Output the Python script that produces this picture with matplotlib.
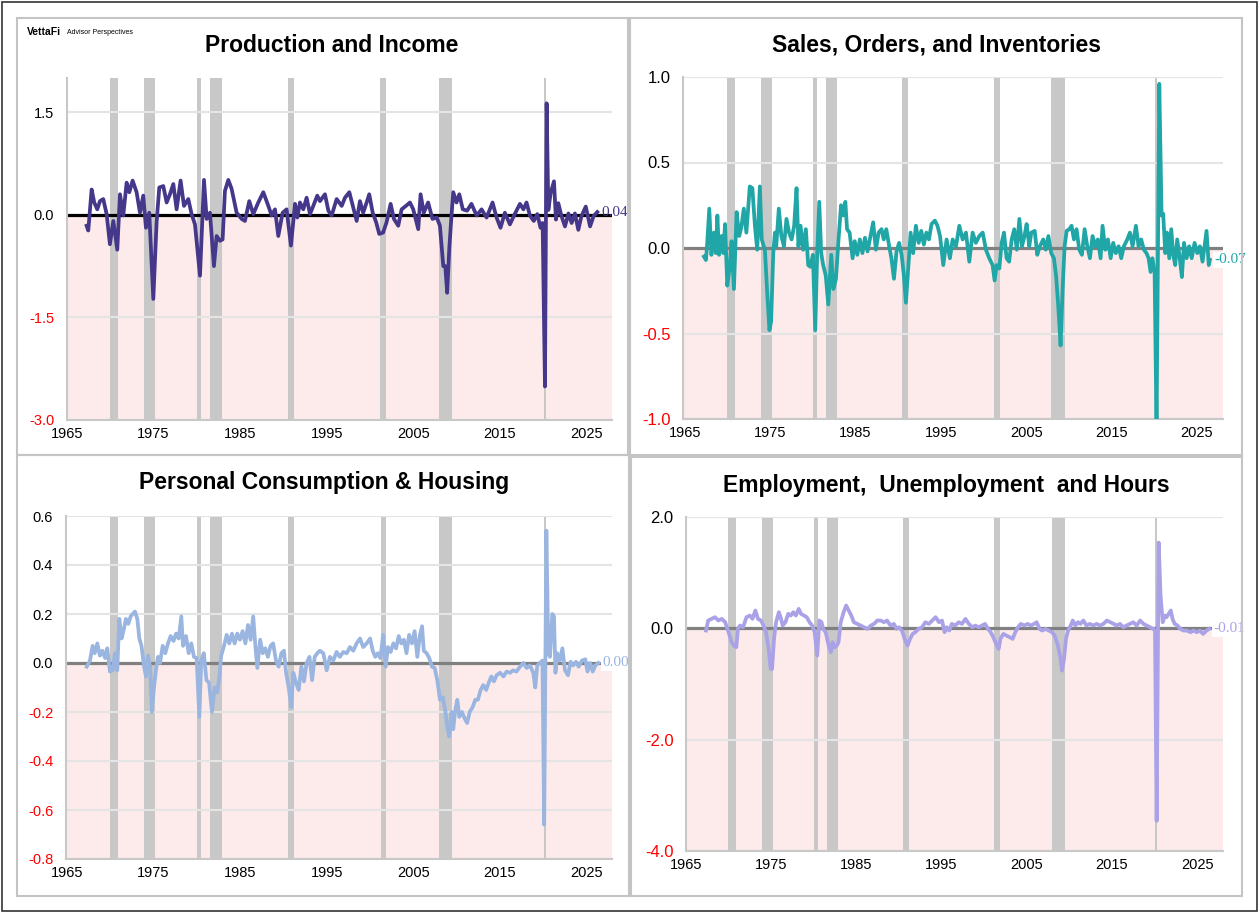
import matplotlib
matplotlib.use("Agg")
import matplotlib.pyplot as plt
from matplotlib.patches import Rectangle

plt.rcParams['font.family'] = ['Liberation Sans', 'DejaVu Sans']

W, H = 1260, 914

# recession periods (NBER)
recessions = [(1969.92, 1970.88), (1973.88, 1975.2), (1980.0, 1980.5), (1981.5, 1982.88),
              (1990.5, 1991.2), (2001.2, 2001.88), (2007.92, 2009.5), (2020.1, 2020.3)]

# Production and Income
prod_x = [1967.27, 1967.46, 1967.85, 1968.15, 1968.5, 1968.81, 1969.19, 1969.58, 1969.96, 1970.35,
          1970.81, 1971.12, 1971.5, 1971.89, 1972.2, 1972.58, 1973.04, 1973.43, 1973.81, 1974.12,
          1974.5, 1974.97, 1975.35, 1975.66, 1976.12, 1976.51, 1976.89, 1977.28, 1977.66, 1978.12,
          1978.51, 1979.01, 1979.39, 1979.78, 1980.36, 1980.82, 1981.13, 1981.51, 1981.97, 1982.28,
          1982.67, 1982.97, 1983.24, 1983.63, 1984.01, 1984.59, 1985.17, 1985.55, 1986.05, 1986.51,
          1987.09, 1987.67, 1988.25, 1988.63, 1989.02, 1989.4, 1989.9, 1990.36, 1990.86, 1991.33,
          1991.6, 1991.9, 1992.29, 1992.67, 1993.06, 1993.44, 1993.9, 1994.21, 1994.79, 1995.18,
          1995.56, 1996.14, 1996.72, 1997.1, 1997.6, 1998.0, 1998.45, 1998.83, 1999.2, 1999.6,
          1999.9, 2000.3, 2000.7, 2001.06, 2001.5, 2001.9, 2002.37, 2002.75, 2003.25, 2003.64,
          2004.14, 2004.6, 2004.98, 2005.56, 2005.83, 2006.2, 2006.7, 2007.2, 2007.7, 2008.06,
          2008.45, 2008.68, 2008.9, 2009.14, 2009.37, 2009.6, 2009.98, 2010.3, 2010.7, 2011.2,
          2011.7, 2012.3, 2012.87, 2013.45, 2014.14, 2014.6, 2015.06, 2015.56, 2016.14, 2016.7,
          2017.3, 2017.7, 2018.06, 2018.45, 2018.9, 2019.3, 2019.68, 2019.92, 2020.19, 2020.38,
          2020.58, 2020.85, 2021.23, 2021.46, 2021.73, 2022.1, 2022.5, 2022.9, 2023.27, 2023.65,
          2024.04, 2024.4, 2024.9, 2025.4, 2025.8, 2026.23]
prod_y = [-0.16, -0.23, 0.37, 0.18, 0.08, 0.2, 0.23, 0.01, -0.43, -0.09,
          -0.51, 0.3, -0.01, 0.47, 0.33, 0.5, 0.33, 0.03, 0.28, -0.19,
          0.03, -1.23, -0.11, 0.4, 0.42, 0.18, 0.3, 0.45, 0.08, 0.5,
          0.13, 0.23, 0.01, -0.14, -0.89, 0.51, -0.06, 0.03, -0.75, -0.31,
          -0.38, -0.36, 0.35, 0.51, 0.38, 0.03, -0.06, -0.09, 0.2, 0.01,
          0.18, 0.33, 0.13, -0.01, 0.08, -0.31, 0.03, 0.08, -0.45, 0.16,
          -0.04, 0.18, 0.08, 0.25, 0.01, 0.13, 0.28, 0.2, 0.3, 0.06,
          -0.01, 0.23, 0.13, 0.25, 0.33, 0.13, -0.09, 0.2, 0.03, 0.18,
          0.3, 0.03, -0.11, -0.28, -0.26, -0.11, 0.16, -0.06, -0.16, 0.08,
          0.13, 0.18, 0.08, -0.21, 0.3, 0.03, 0.18, -0.06, -0.04, -0.16,
          -0.75, -0.75, -1.14, -0.5, -0.06, 0.33, 0.18, 0.3, 0.08, 0.06,
          0.16, -0.01, 0.08, -0.04, 0.18, -0.04, -0.19, 0.03, -0.14, 0.01,
          0.16, 0.08, 0.18, -0.01, -0.09, 0.01, -0.19, -0.12, -2.51, 1.63,
          0.07, 0.32, 0.49, -0.07, 0.17, -0.02, -0.17, 0.02, -0.12, 0.02,
          -0.22, -0.02, 0.12, -0.17, -0.02, 0.04]

# Sales, Orders, and Inventories
sales_x = [1967.22, 1967.46, 1967.6, 1967.85, 1968.1, 1968.4, 1968.63, 1968.8, 1969.0, 1969.3,
           1969.5, 1969.7, 1969.96, 1970.27, 1970.46, 1970.74, 1971.05, 1971.36, 1971.6, 1971.9,
           1972.2, 1972.6, 1972.9, 1973.2, 1973.47, 1973.78, 1974.0, 1974.37, 1974.64, 1974.9,
           1975.1, 1975.35, 1975.55, 1975.7, 1976.0, 1976.3, 1976.6, 1976.9, 1977.2, 1977.5,
           1977.8, 1978.08, 1978.3, 1978.55, 1978.86, 1979.17, 1979.45, 1979.7, 1980.0, 1980.27,
           1980.5, 1980.74, 1980.97, 1981.2, 1981.5, 1981.8, 1982.15, 1982.4, 1982.7, 1983.0,
           1983.3, 1983.55, 1983.8, 1984.0, 1984.3, 1984.65, 1984.9, 1985.2, 1985.5, 1985.8,
           1986.1, 1986.4, 1986.75, 1987.06, 1987.38, 1987.7, 1988.04, 1988.3, 1988.6, 1988.94,
           1989.2, 1989.5, 1989.8, 1990.1, 1990.4, 1990.66, 1990.9, 1991.2, 1991.45, 1991.75,
           1992.07, 1992.4, 1992.7, 1993.0, 1993.3, 1993.6, 1993.9, 1994.3, 1994.6, 1994.9,
           1995.28, 1995.67, 1996.06, 1996.38, 1996.77, 1997.16, 1997.55, 1997.94, 1998.33, 1998.72,
           1999.1, 1999.5, 1999.9, 2000.28, 2000.67, 2001.06, 2001.3, 2001.53, 2001.85, 2002.12,
           2002.4, 2002.7, 2003.0, 2003.3, 2003.6, 2003.9, 2004.2, 2004.5, 2004.8, 2005.05,
           2005.36, 2005.6, 2006.0, 2006.3, 2006.6, 2007.0, 2007.3, 2007.6, 2007.94, 2008.25,
           2008.5, 2008.76, 2009.03, 2009.27, 2009.5, 2009.74, 2010.05, 2010.32, 2010.6, 2010.9,
           2011.22, 2011.53, 2011.85, 2012.16, 2012.47, 2012.78, 2013.1, 2013.4, 2013.72, 2013.95,
           2014.27, 2014.58, 2014.9, 2015.2, 2015.5, 2015.83, 2016.14, 2016.45, 2016.85, 2017.16,
           2017.47, 2017.86, 2018.17, 2018.48, 2018.8, 2019.1, 2019.35, 2019.58, 2019.8, 2020.05,
           2020.28, 2020.6, 2020.87, 2021.06, 2021.3, 2021.5, 2021.77, 2022.0, 2022.24, 2022.47,
           2022.7, 2023.0, 2023.25, 2023.5, 2023.8, 2024.1, 2024.4, 2024.74, 2025.05, 2025.36,
           2025.67, 2025.9, 2026.14, 2026.4, 2026.53]
sales_y = [-0.05, -0.07, 0.02, 0.23, -0.04, 0.09, -0.03, 0.19, -0.04, 0.07,
           -0.03, 0.14, -0.22, -0.1, 0.04, -0.24, 0.21, 0.07, 0.12, 0.23,
           0.09, 0.36, 0.35, 0.13, -0.01, 0.36, 0.05, -0.01, -0.26, -0.48,
           -0.43, -0.03, 0.09, 0.01, 0.23, 0.07, 0.01, 0.17, 0.09, 0.05,
           0.13, 0.35, 0.01, 0.13, -0.01, 0.11, -0.1, -0.11, -0.04, -0.48,
           -0.03, 0.27, -0.03, -0.1, -0.16, -0.33, -0.04, -0.24, -0.18, 0.05,
           0.25, 0.19, 0.27, 0.11, 0.09, -0.06, 0.04, -0.04, 0.05, -0.03,
           0.06, -0.02, 0.07, 0.15, -0.01, 0.09, 0.11, 0.05, 0.11, 0.01,
           -0.06, -0.18, -0.02, 0.03, -0.04, -0.16, -0.32, -0.1, 0.09, -0.03,
           0.13, 0.03, 0.1, 0.02, 0.09, 0.05, 0.14, 0.16, 0.13, 0.07,
           -0.1, 0.05, -0.06, 0.05, 0.01, 0.13, 0.05, 0.09, -0.08, 0.09,
           0.03, 0.07, 0.09, -0.01, -0.06, -0.1, -0.19, -0.1, -0.12, 0.03,
           0.09, -0.06, -0.08, 0.05, 0.11, -0.01, 0.17, 0.01, 0.07, 0.14,
           0.01, 0.09, 0.1, -0.04, 0.01, 0.05, -0.01, 0.07, -0.03, -0.06,
           -0.16, -0.34, -0.57, -0.24, 0.01, 0.1, 0.11, 0.13, 0.05, 0.11,
           -0.01, -0.04, 0.11, 0.01, -0.06, 0.07, 0.01, 0.05, -0.06, 0.13,
           -0.01, 0.05, -0.06, 0.03, -0.03, 0.01, -0.06, 0.01, 0.05, 0.09,
           0.01, 0.13, 0.01, 0.05, -0.01, -0.03, -0.06, -0.14, -0.06, -0.14,
           -1.05, 0.96, 0.19, 0.2, -0.03, 0.09, -0.06, 0.11, -0.04, -0.1,
           0.05, -0.06, -0.17, 0.03, -0.06, 0.01, -0.06, 0.03, -0.03, 0.01,
           -0.08, 0.01, 0.1, -0.1, -0.07]

# Personal Consumption & Housing
cons_x = [1967.27, 1967.65, 1967.96, 1968.2, 1968.5, 1968.8, 1969.1, 1969.4, 1969.65, 1969.96,
          1970.27, 1970.54, 1970.8, 1971.04, 1971.3, 1971.58, 1971.8, 1972.08, 1972.35, 1972.58,
          1972.85, 1973.12, 1973.35, 1973.6, 1973.9, 1974.12, 1974.35, 1974.6, 1974.8, 1975.04,
          1975.27, 1975.5, 1975.74, 1976.05, 1976.35, 1976.66, 1976.97, 1977.3, 1977.6, 1977.9,
          1978.2, 1978.4, 1978.74, 1979.05, 1979.35, 1979.66, 1979.97, 1980.28, 1980.5, 1980.8,
          1981.1, 1981.4, 1981.74, 1982.05, 1982.35, 1982.6, 1982.8, 1983.13, 1983.44, 1983.74,
          1984.05, 1984.36, 1984.66, 1984.97, 1985.28, 1985.6, 1985.9, 1986.2, 1986.5, 1986.75,
          1986.98, 1987.3, 1987.6, 1987.9, 1988.2, 1988.5, 1988.8, 1989.13, 1989.44, 1989.75,
          1990.05, 1990.3, 1990.6, 1990.9, 1991.13, 1991.44, 1991.75, 1992.06, 1992.36, 1992.67,
          1993.0, 1993.3, 1993.6, 1993.9, 1994.2, 1994.6, 1994.98, 1995.36, 1995.75, 1996.13,
          1996.5, 1996.9, 1997.3, 1997.67, 1998.06, 1998.44, 1998.83, 1999.2, 1999.6, 2000.0,
          2000.3, 2000.6, 2000.9, 2001.2, 2001.5, 2001.8, 2002.06, 2002.37, 2002.68, 2003.0,
          2003.3, 2003.6, 2003.9, 2004.2, 2004.5, 2004.83, 2005.14, 2005.45, 2005.76, 2006.0,
          2006.2, 2006.53, 2006.83, 2007.14, 2007.45, 2007.76, 2008.07, 2008.4, 2008.7, 2008.9,
          2009.14, 2009.4, 2009.6, 2009.84, 2010.07, 2010.3, 2010.6, 2010.9, 2011.2, 2011.5,
          2011.84, 2012.15, 2012.45, 2012.76, 2013.07, 2013.4, 2013.7, 2014.0, 2014.3, 2014.6,
          2015.0, 2015.4, 2015.76, 2016.15, 2016.5, 2016.9, 2017.3, 2017.7, 2018.07, 2018.46,
          2018.84, 2019.07, 2019.3, 2019.6, 2019.9, 2020.1, 2020.35, 2020.58, 2020.77, 2021.04,
          2021.23, 2021.4, 2021.6, 2021.9, 2022.2, 2022.5, 2022.85, 2023.15, 2023.46, 2023.77,
          2024.08, 2024.46, 2024.85, 2025.1, 2025.4, 2025.7, 2026.0, 2026.35]
cons_y = [-0.015, 0.01, 0.07, 0.04, 0.08, 0.03, 0.05, 0.02, 0.06, -0.035,
          -0.03, 0.04, -0.03, 0.18, 0.1, 0.14, 0.18, 0.16, 0.19, 0.2,
          0.21, 0.18, 0.1, 0.07, -0.015, -0.055, 0.03, -0.015, -0.2, -0.1,
          -0.03, 0.025, 0.0, 0.07, 0.04, 0.08, 0.11, 0.09, 0.12, 0.1,
          0.19, 0.07, 0.11, 0.04, 0.08, 0.025, 0.02, -0.22, 0.01, 0.04,
          -0.07, -0.08, -0.2, -0.1, -0.12, -0.055, 0.03, 0.07, 0.115, 0.08,
          0.12, 0.08, 0.12, 0.095, 0.13, 0.08, 0.155, 0.095, 0.19, 0.07,
          -0.02, 0.095, 0.04, 0.06, 0.025, 0.07, 0.08, 0.01, -0.015, 0.04,
          0.05, -0.04, -0.1, -0.18, -0.04, -0.08, -0.11, -0.015, -0.075, 0.0,
          0.025, -0.07, 0.025, 0.04, 0.05, 0.04, -0.03, 0.025, 0.01, 0.045,
          0.025, 0.045, 0.04, 0.065, 0.05, 0.08, 0.1, 0.065, 0.08, 0.1,
          0.05, 0.025, 0.04, 0.02, 0.115, -0.015, 0.065, 0.045, 0.08, 0.06,
          0.11, 0.08, 0.095, 0.04, 0.115, 0.08, 0.13, 0.025, 0.115, 0.15,
          0.05, 0.04, 0.02, -0.015, -0.02, -0.07, -0.15, -0.14, -0.2, -0.26,
          -0.3, -0.2, -0.27, -0.19, -0.15, -0.22, -0.2, -0.225, -0.245, -0.2,
          -0.18, -0.15, -0.15, -0.11, -0.09, -0.11, -0.08, -0.055, -0.075, -0.05,
          -0.04, -0.055, -0.035, -0.04, -0.03, -0.035, -0.015, 0.0, -0.02, -0.01,
          -0.04, -0.1, -0.01, 0.0, 0.01, -0.66, 0.54, 0.04, 0.025, 0.2,
          0.19, -0.04, 0.04, 0.01, 0.06, -0.03, -0.05, 0.005, -0.01, 0.005,
          -0.015, 0.01, 0.015, -0.035, 0.0, -0.035, -0.01, 0.0]

# Employment, Unemployment and Hours
emp_x = [1967.35, 1967.6, 1968.0, 1968.4, 1968.8, 1969.2, 1969.6, 1970.0, 1970.36, 1970.6,
         1970.9, 1971.1, 1971.34, 1971.7, 1972.1, 1972.5, 1972.8, 1973.14, 1973.45, 1973.8,
         1974.1, 1974.4, 1974.7, 1974.94, 1975.1, 1975.33, 1975.57, 1975.9, 1976.1, 1976.35,
         1976.67, 1977.0, 1977.3, 1977.6, 1977.9, 1978.23, 1978.5, 1978.85, 1979.17, 1979.5,
         1979.8, 1980.1, 1980.4, 1980.65, 1980.9, 1981.1, 1981.4, 1981.75, 1982.0, 1982.2,
         1982.45, 1982.7, 1982.9, 1983.16, 1983.5, 1983.8, 1984.1, 1984.4, 1984.7, 1985.1,
         1985.5, 1985.9, 1986.3, 1986.7, 1987.07, 1987.46, 1987.85, 1988.24, 1988.6, 1989.0,
         1989.4, 1989.7, 1990.0, 1990.35, 1990.67, 1991.0, 1991.3, 1991.6, 1991.9, 1992.3,
         1992.7, 1993.1, 1993.5, 1993.9, 1994.3, 1994.7, 1995.05, 1995.35, 1995.6, 1995.9,
         1996.2, 1996.6, 1997.0, 1997.4, 1997.8, 1998.2, 1998.6, 1998.96, 1999.35, 1999.74,
         2000.1, 2000.45, 2000.76, 2001.07, 2001.4, 2001.7, 2001.9, 2002.25, 2002.6, 2003.0,
         2003.34, 2003.65, 2003.97, 2004.3, 2004.7, 2005.1, 2005.46, 2005.85, 2006.16, 2006.5,
         2006.8, 2007.2, 2007.6, 2007.96, 2008.27, 2008.6, 2008.9, 2009.13, 2009.37, 2009.6,
         2009.84, 2010.15, 2010.4, 2010.7, 2011.0, 2011.3, 2011.64, 2012.0, 2012.4, 2012.8,
         2013.2, 2013.6, 2014.0, 2014.4, 2014.8, 2015.2, 2015.55, 2015.94, 2016.33, 2016.7,
         2017.1, 2017.5, 2017.9, 2018.3, 2018.7, 2019.07, 2019.46, 2019.85, 2020.05, 2020.24,
         2020.48, 2020.7, 2020.95, 2021.2, 2021.4, 2021.65, 2021.9, 2022.1, 2022.36, 2022.7,
         2023.0, 2023.4, 2023.8, 2024.2, 2024.55, 2024.94, 2025.3, 2025.7, 2026.1, 2026.4]
emp_y = [-0.04, 0.14, 0.17, 0.2, 0.14, 0.17, 0.11, -0.07, -0.25, -0.31,
         -0.34, -0.01, 0.05, 0.02, 0.2, 0.23, 0.17, 0.32, 0.17, 0.14,
         0.05, -0.07, -0.37, -0.73, -0.73, -0.19, 0.11, 0.29, 0.2, 0.05,
         0.11, 0.26, 0.23, 0.29, 0.23, 0.35, 0.26, 0.23, 0.2, 0.11,
         0.05, -0.07, -0.49, 0.14, 0.11, -0.01, -0.07, -0.31, -0.43, -0.25,
         -0.34, -0.31, -0.25, 0.11, 0.29, 0.41, 0.32, 0.23, 0.11, 0.08,
         0.05, 0.02, -0.01, 0.05, 0.08, 0.14, 0.14, 0.11, 0.14, 0.05,
         0.08, -0.01, 0.02, -0.04, -0.19, -0.31, -0.19, -0.1, -0.07, -0.01,
         0.02, 0.11, 0.08, 0.14, 0.2, 0.11, 0.14, -0.07, 0.02, -0.04,
         0.08, 0.05, 0.11, 0.08, 0.17, 0.08, 0.02, 0.05, 0.02, 0.05,
         0.08, -0.01, -0.07, -0.16, -0.28, -0.37, -0.19, -0.1, -0.13, -0.16,
         -0.19, -0.07, 0.02, 0.08, 0.05, 0.08, 0.05, 0.08, 0.11, -0.01,
         -0.04, -0.01, -0.04, -0.07, -0.13, -0.28, -0.49, -0.76, -0.55, -0.19,
         -0.04, 0.05, 0.14, 0.05, 0.11, 0.08, 0.14, 0.05, 0.08, 0.05,
         0.08, 0.05, 0.08, 0.14, 0.11, 0.08, 0.05, 0.08, 0.02, 0.05,
         0.08, 0.11, 0.05, 0.14, 0.08, 0.05, 0.02, -0.01, -0.04, -3.46,
         1.54, 0.59, 0.11, 0.23, 0.2, 0.26, 0.32, 0.17, 0.08, 0.05,
         -0.01, -0.04, -0.04, -0.07, -0.04, -0.07, -0.04, -0.1, -0.04, -0.01]

panels = [
    dict(title="Production and Income", x=prod_x, y=prod_y, color="#45378A", zero="black",
         box=(66.7, 78, 612, 420), xlim=(1964.97, 2027.93), ylim=(-3.0, 2.0),
         yticks=[-3.0, -1.5, 0.0, 1.5], ysize=10.5, label="0.04", bg=False,
         title_xy=(332, 46)),
    dict(title="Sales, Orders, and Inventories", x=sales_x, y=sales_y, color="#20A6A6", zero="#808080",
         box=(683, 77, 1223, 419), xlim=(1964.77, 2028.07), ylim=(-1.0, 1.0),
         yticks=[-1.0, -0.5, 0.0, 0.5, 1.0], ysize=12, label="-0.07", bg=True,
         title_xy=(937, 45)),
    dict(title="Personal Consumption & Housing", x=cons_x, y=cons_y, color="#99B5E0", zero="#808080",
         box=(65.7, 516, 612, 859), xlim=(1964.85, 2027.93), ylim=(-0.8, 0.6),
         yticks=[-0.8, -0.6, -0.4, -0.2, 0.0, 0.2, 0.4, 0.6], ysize=10.5, label="0.00", bg=True,
         title_xy=(324, 483)),
    dict(title="Employment,  Unemployment  and Hours", x=emp_x, y=emp_y, color="#AAA2E6", zero="#808080",
         box=(686, 517, 1223, 851), xlim=(1965.0, 2028.03), ylim=(-4.0, 2.0),
         yticks=[-4.0, -2.0, 0.0, 2.0], ysize=12, label="-0.01", bg=True,
         title_xy=(946, 486)),
]

fig = plt.figure(figsize=(W / 100, H / 100), dpi=100)

# outer border and panel frames
fig.add_artist(Rectangle((2 / W, 1 - 911 / H), 1255 / W, 909 / H, transform=fig.transFigure,
                         fill=False, edgecolor="#333333", lw=1.2))
for x0, y0, x1, y1 in [(17, 18, 628, 455), (630, 18, 1242, 455), (17, 455, 629, 896), (631, 457, 1242, 896)]:
    fig.add_artist(Rectangle((x0 / W, 1 - y1 / H), (x1 - x0) / W, (y1 - y0) / H,
                             transform=fig.transFigure, fill=False, edgecolor="#C4C4C4", lw=1.5))

for p in panels:
    x0, y0, x1, y1 = p["box"]
    ax = fig.add_axes([x0 / W, 1 - y1 / H, (x1 - x0) / W, (y1 - y0) / H])
    ax.set_xlim(*p["xlim"])
    ax.set_ylim(*p["ylim"])

    ax.axhspan(p["ylim"][0], 0, color="#FDEBEB", lw=0, zorder=0)
    for a, b in recessions:
        ax.axvspan(a, b, color="#C8C8C8", lw=0, zorder=1)
    for t in p["yticks"]:
        if t != 0:
            ax.axhline(t, color="#E4E4E4", lw=1.5, zorder=1.5)
    ax.axhline(0, color=p["zero"], lw=2.3, zorder=2)
    ax.plot(p["x"], p["y"], color=p["color"], lw=2.7, zorder=3, solid_joinstyle="round")

    ax.set_yticks(p["yticks"])
    ax.set_yticklabels(["%.1f" % t for t in p["yticks"]], fontsize=p["ysize"])
    for lab, t in zip(ax.get_yticklabels(), p["yticks"]):
        lab.set_color("red" if t < 0 else "black")
    ax.set_xticks(range(1965, 2026, 10))
    ax.set_xticklabels([str(v) for v in range(1965, 2026, 10)], fontsize=10.5)
    ax.tick_params(length=0)
    ax.tick_params(axis="y", pad=9)
    ax.tick_params(axis="x", pad=5)

    for s in ["top", "right"]:
        ax.spines[s].set_visible(False)
    for s in ["left", "bottom"]:
        ax.spines[s].set_color("#C8C8C8")
        ax.spines[s].set_linewidth(1.5)

    bbox = dict(facecolor="white", edgecolor="none", pad=1) if p["bg"] else None
    ax.annotate(p["label"], (p["x"][-1], p["y"][-1]), xytext=(3, 0), textcoords="offset points",
                ha="left", va="center", color=p["color"], fontsize=11,
                family=["Liberation Serif", "DejaVu Serif"], annotation_clip=False, bbox=bbox, zorder=5)

    tx, ty = p["title_xy"]
    fig.text(tx / W, 1 - ty / H, p["title"], ha="center", va="center", fontsize=16.5, fontweight="bold")

fig.text(27 / W, 1 - 32 / H, "VettaFi", ha="left", va="center", fontsize=7.5, fontweight="bold")
fig.text(67 / W, 1 - 32 / H, "Advisor Perspectives", ha="left", va="center", fontsize=5)

fig.savefig("out.png", dpi=100)
